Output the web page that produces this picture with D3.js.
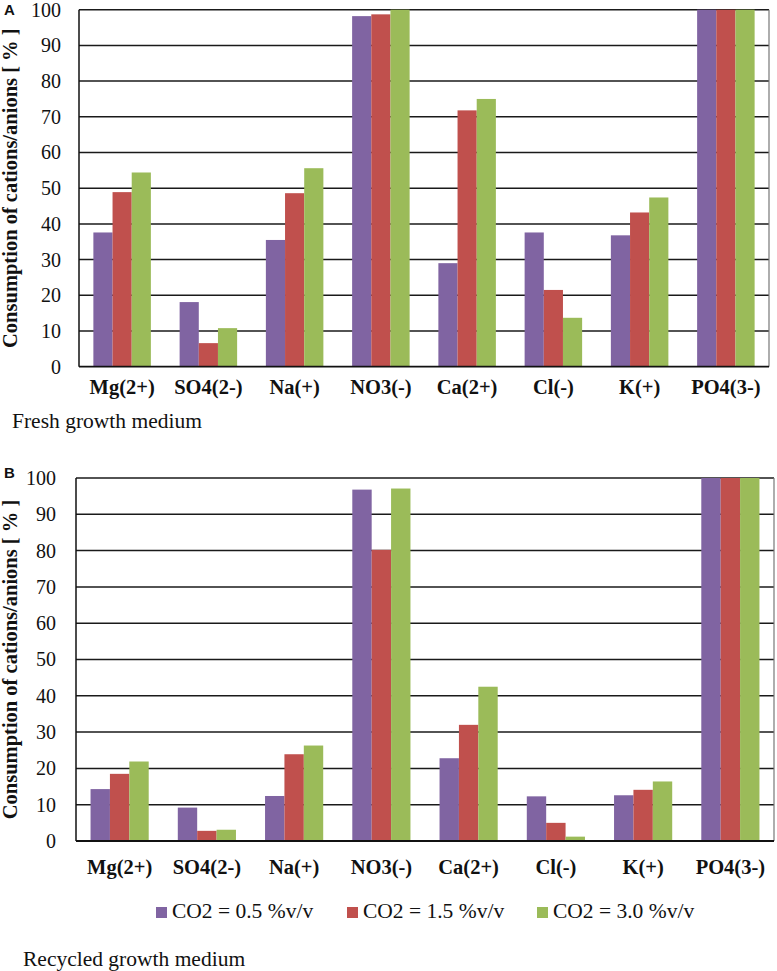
<!DOCTYPE html>
<html>
<head>
<meta charset="utf-8">
<script src="https://cdn.jsdelivr.net/npm/d3@7/dist/d3.min.js"></script>
<style>
  html, body { margin: 0; padding: 0; background: #fff; }
  svg { display: block; }
</style>
</head>
<body>
<script>
// ---- data ----
const categories = ["Mg(2+)", "SO4(2-)", "Na(+)", "NO3(-)", "Ca(2+)", "Cl(-)", "K(+)", "PO4(3-)"];
const seriesNames = ["CO2 = 0.5 %v/v", "CO2 = 1.5 %v/v", "CO2 = 3.0 %v/v"];
const seriesColors = ["#8064A2", "#C0504D", "#9BBB59"];
const yTicks = [0, 10, 20, 30, 40, 50, 60, 70, 80, 90, 100];

// Panel A: fresh growth medium
const freshCO2_05 = [37.6, 18.1, 35.5, 98.2, 29.0, 37.6, 36.8, 100];
const freshCO2_15 = [48.9, 6.6, 48.6, 98.7, 71.8, 21.5, 43.2, 100];
const freshCO2_30 = [54.4, 10.8, 55.6, 100, 75.0, 13.7, 47.4, 100];

// Panel B: recycled growth medium
const recycledCO2_05 = [14.3, 9.2, 12.4, 96.8, 22.8, 12.3, 12.6, 100];
const recycledCO2_15 = [18.5, 2.8, 23.9, 80.2, 32.0, 5.0, 14.1, 100];
const recycledCO2_30 = [21.9, 3.1, 26.3, 97.1, 42.5, 1.2, 16.4, 100];

const yTitle = "Consumption of cations/anions [ % ]";

const W = 777, H = 971;
const svg = d3.select("body").append("svg").attr("width", W).attr("height", H);

const serif = "'Liberation Serif', 'Times New Roman', serif";
const sans = "'Liberation Sans', Arial, sans-serif";

function drawPanel(cfg) {
  const { x0, x1, yTop, yBot, series, panelLabel, captionText, captionX, captionY, catY, tickEndX } = cfg;
  const g = svg.append("g");
  const x = d3.scaleBand().domain(categories).range([x0, x1]).paddingInner(0).paddingOuter(0);
  const xs = d3.scaleBand().domain(d3.range(series.length)).range([0, x.bandwidth()])
    .paddingInner(0).paddingOuter(0.75);
  const y = d3.scaleLinear().domain([0, 100]).range([yBot, yTop]);

  // gridlines
  g.append("g").selectAll("line").data(yTicks.filter(d => d > 0)).join("line")
    .attr("x1", x0).attr("x2", x1)
    .attr("y1", d => y(d)).attr("y2", d => y(d))
    .attr("stroke", "#1a1a1a").attr("stroke-width", 1.5);

  // right border
  g.append("line").attr("x1", x1).attr("x2", x1).attr("y1", yTop).attr("y2", yBot)
    .attr("stroke", "#777").attr("stroke-width", 1.2);

  // bars
  series.forEach((vals, si) => {
    g.append("g").selectAll("rect").data(vals).join("rect")
      .attr("x", (d, i) => x(categories[i]) + xs(si))
      .attr("width", xs.bandwidth())
      .attr("y", d => y(d))
      .attr("height", d => y(0) - y(d))
      .attr("fill", seriesColors[si]);
  });

  // axes lines
  g.append("line").attr("x1", x0).attr("x2", x0).attr("y1", yTop).attr("y2", yBot)
    .attr("stroke", "#111").attr("stroke-width", 1.5);
  g.append("line").attr("x1", x0).attr("x2", x1).attr("y1", yBot).attr("y2", yBot)
    .attr("stroke", "#111").attr("stroke-width", 1.8);

  // y tick labels
  const ya = d3.axisLeft(y).tickValues(yTicks).tickSize(0).tickPadding(0).tickFormat(d3.format("d"));
  const yg = g.append("g").attr("transform", `translate(${tickEndX},0)`).call(ya);
  yg.select(".domain").remove();
  yg.selectAll("text").attr("font-family", serif).attr("font-size", 20).attr("fill", "#111");

  // category labels
  g.append("g").selectAll("text").data(categories).join("text")
    .attr("x", d => x(d) + x.bandwidth() / 2)
    .attr("y", catY)
    .attr("text-anchor", "middle")
    .attr("font-family", serif).attr("font-weight", "bold").attr("font-size", 20.5)
    .attr("fill", "#111")
    .text(d => d);

  // y title
  g.append("text")
    .attr("transform", `translate(17,${(yTop + yBot) / 2}) rotate(-90)`)
    .attr("text-anchor", "middle")
    .attr("font-family", serif).attr("font-weight", "bold").attr("font-size", 20.5)
    .attr("fill", "#111")
    .text(yTitle);

  // panel label
  g.append("text").attr("x", 4).attr("y", cfg.labelY)
    .attr("font-family", sans).attr("font-weight", "bold").attr("font-size", 15)
    .attr("fill", "#111").text(panelLabel);

  // caption
  g.append("text").attr("x", captionX).attr("y", captionY)
    .attr("font-family", serif).attr("font-size", 21.5).attr("fill", "#111")
    .text(captionText);
}

drawPanel({
  x0: 79, x1: 769, yTop: 9.7, yBot: 366.7,
  series: [freshCO2_05, freshCO2_15, freshCO2_30],
  panelLabel: "A", labelY: 15,
  captionText: "Fresh growth medium", captionX: 12, captionY: 428,
  catY: 394, tickEndX: 61
});

drawPanel({
  x0: 76, x1: 774, yTop: 478, yBot: 841,
  series: [recycledCO2_05, recycledCO2_15, recycledCO2_30],
  panelLabel: "B", labelY: 478,
  captionText: "Recycled growth medium", captionX: 23, captionY: 966,
  catY: 874, tickEndX: 56
});

// legend
const legendX = [156, 347, 537];
const lg = svg.append("g");
seriesNames.forEach((name, i) => {
  lg.append("rect").attr("x", legendX[i]).attr("y", 907).attr("width", 11).attr("height", 11)
    .attr("fill", seriesColors[i]);
  lg.append("text").attr("x", legendX[i] + 16).attr("y", 918)
    .attr("font-family", serif).attr("font-size", 21.5).attr("fill", "#111")
    .text(name);
});
</script>
</body>
</html>
